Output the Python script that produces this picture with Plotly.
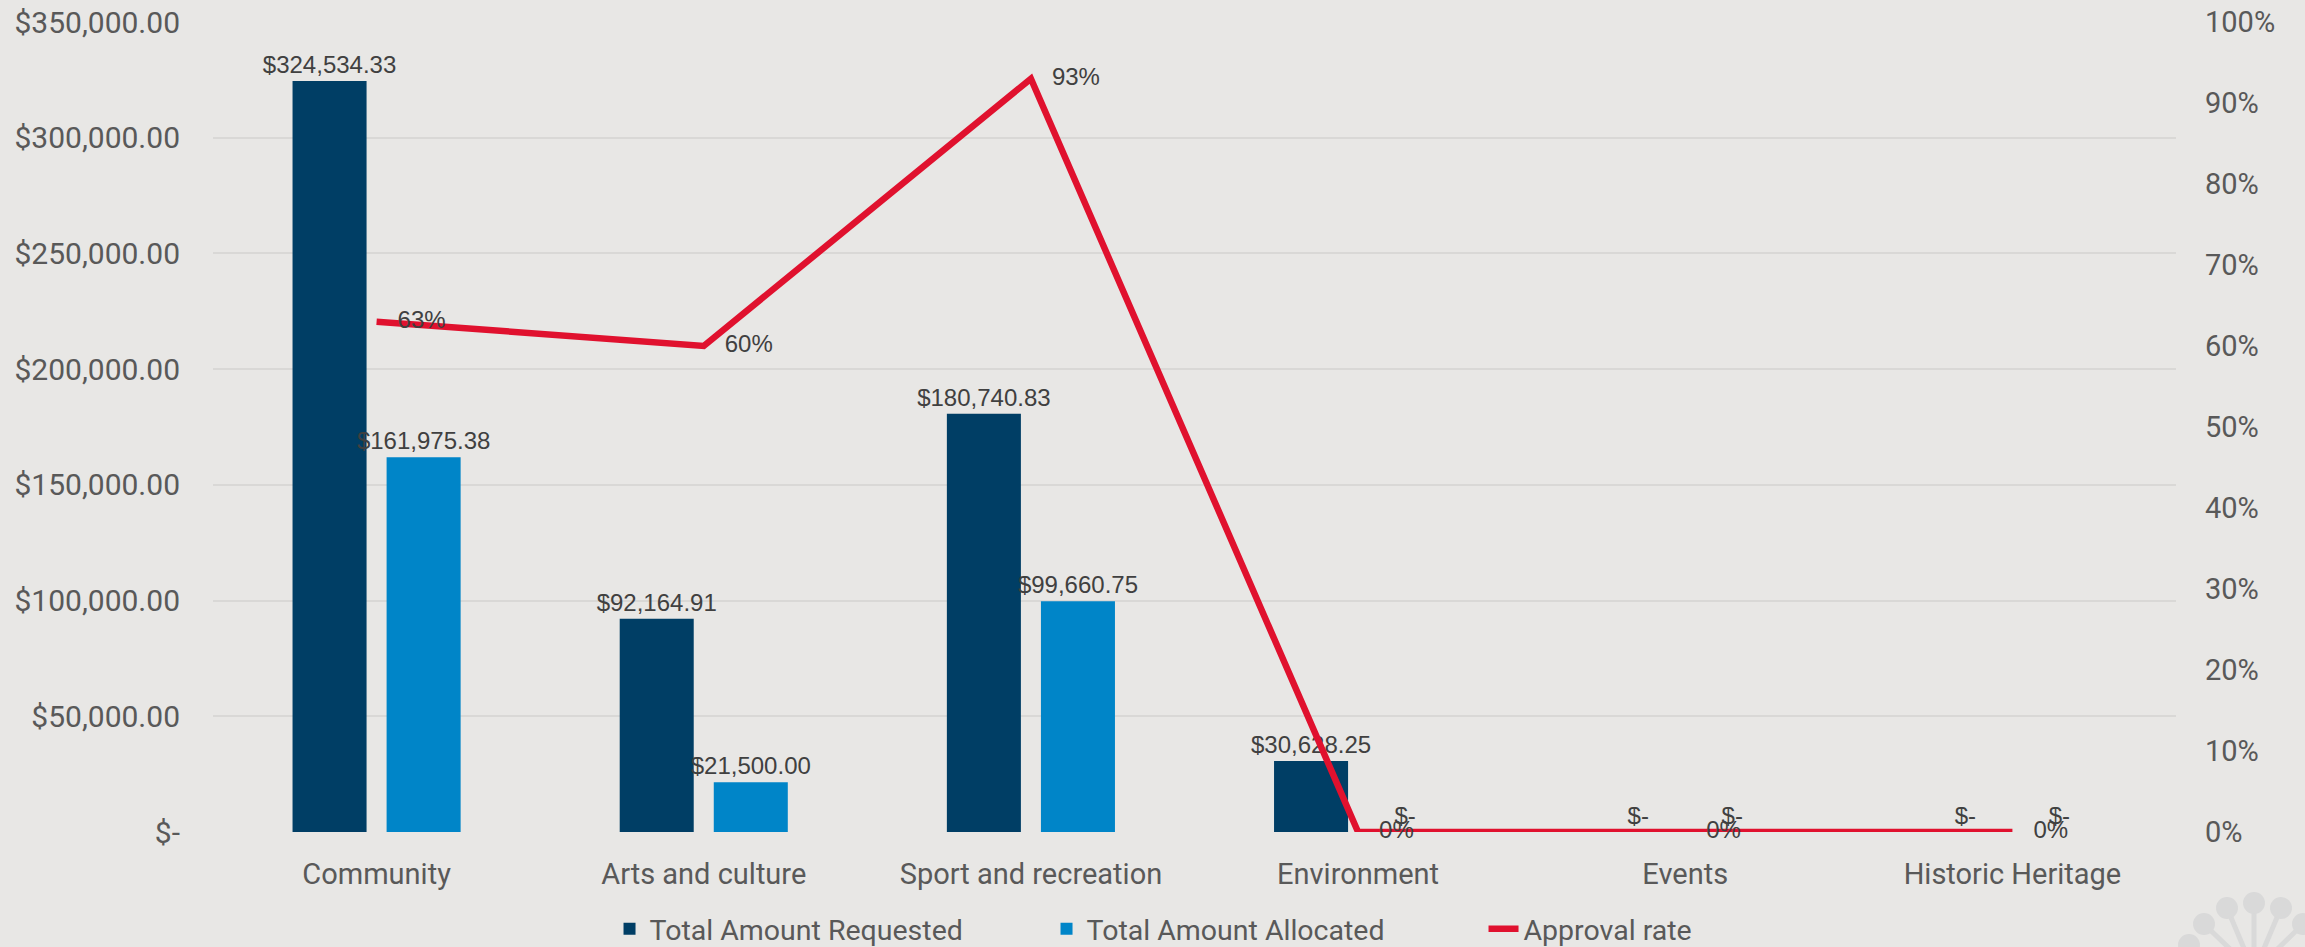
import plotly.graph_objects as go

categories = ["Community", "Arts and culture", "Sport and recreation", "Environment", "Events", "Historic Heritage"]
requested = [324534.33, 92164.91, 180740.83, 30628.25, 0, 0]
allocated = [161975.38, 21500.00, 99660.75, 0, 0, 0]
approval_rate = [0.63, 0.60, 0.93, 0.0, 0.0, 0.0]

left_tick_vals = [0, 50000, 100000, 150000, 200000, 250000, 300000, 350000]
left_tick_labels = ["$-", "$50,000.00", "$100,000.00", "$150,000.00", "$200,000.00",
                    "$250,000.00", "$300,000.00", "$350,000.00"]
right_tick_vals = [0, 0.1, 0.2, 0.3, 0.4, 0.5, 0.6, 0.7, 0.8, 0.9, 1.0]
right_tick_labels = ["0%", "10%", "20%", "30%", "40%", "50%", "60%", "70%", "80%", "90%", "100%"]

W, H = 2305, 947
ML, MT = 213, 22
PW, PH = 1963, 810
MR = W - ML - PW
MB = H - MT - PH

BG = "#E8E7E5"
GRID = "#D9D8D6"
TICK = "#595959"
LABEL = "#404040"
C_REQ = "#003E65"
C_ALL = "#0085C8"
C_LINE = "#E0112E"
FONT = "Roboto, Liberation Sans, Arial"
LFONT = "Liberation Sans, Arial"


def money(v):
    return "$-" if v == 0 else "${:,.2f}".format(v)


fig = go.Figure()
fig.add_trace(go.Bar(
    x=categories, y=requested, name="Total Amount Requested",
    marker=dict(color=C_REQ, line=dict(width=0)),
    text=[money(v) for v in requested], textposition="outside", constraintext="none",
    textfont=dict(family=LFONT, size=24, color=LABEL),
    cliponaxis=False, hoverinfo="skip",
))
fig.add_trace(go.Bar(
    x=categories, y=allocated, name="Total Amount Allocated",
    marker=dict(color=C_ALL, line=dict(width=0)),
    text=[money(v) for v in allocated], textposition="outside", constraintext="none",
    textfont=dict(family=LFONT, size=24, color=LABEL),
    cliponaxis=False, hoverinfo="skip",
))
fig.add_trace(go.Scatter(
    x=categories, y=approval_rate, name="Approval rate", yaxis="y2",
    mode="lines", line=dict(color=C_LINE, width=6.5),
    hoverinfo="skip", cliponaxis=False,
))
fig.add_trace(go.Scatter(
    x=categories, y=approval_rate, yaxis="y2", showlegend=False,
    mode="markers+text", marker=dict(size=32, color="rgba(0,0,0,0)"),
    text=["{:.0f}%".format(v * 100) for v in approval_rate],
    textposition="middle right",
    textfont=dict(family=LFONT, size=24, color=LABEL),
    hoverinfo="skip", cliponaxis=False,
))


# decorative watermark (bottom-right), given in window pixels
def px_x(px):
    return (px - ML) / PW


def px_y(py):
    return (MT + PH - py) / PH


shapes = []
hub = (2254, 972)
heads = [(2189, 945), (2204, 924), (2227, 908), (2254, 903), (2281, 908), (2303, 924)]
for cx, cy in heads:
    shapes.append(dict(type="line", xref="paper", yref="paper",
                       x0=px_x(cx), y0=px_y(cy), x1=px_x(hub[0]), y1=px_y(hub[1]),
                       line=dict(color="#D9D9D9", width=5), layer="below"))
for cx, cy in heads:
    r = 11
    shapes.append(dict(type="circle", xref="paper", yref="paper",
                       x0=px_x(cx - r), x1=px_x(cx + r), y0=px_y(cy + r), y1=px_y(cy - r),
                       fillcolor="#D9D9D9", line=dict(width=0), layer="below"))

fig.update_layout(
    width=W, height=H,
    margin=dict(l=ML, r=MR, t=MT, b=MB, pad=0, autoexpand=False),
    paper_bgcolor=BG, plot_bgcolor=BG,
    barmode="group", bargap=0.425, bargroupgap=0.213,
    font=dict(family=FONT, color=TICK, size=28),
    xaxis=dict(showgrid=False, showline=False, zeroline=False, ticks="", automargin=False,
               tickfont=dict(size=29, color=TICK), ticklabelstandoff=22),
    yaxis=dict(range=[0, 350000], tickvals=left_tick_vals, ticktext=left_tick_labels,
               showgrid=True, gridcolor=GRID, gridwidth=2, zeroline=False, showline=False,
               ticks="", tickfont=dict(size=30, color=TICK), ticklabelstandoff=32,
               ticklabeloverflow="allow", automargin=False),
    yaxis2=dict(range=[0, 1], tickvals=right_tick_vals, ticktext=right_tick_labels,
                overlaying="y", side="right", showgrid=False, zeroline=False, showline=False,
                ticks="", tickfont=dict(size=29, color=TICK), ticklabelstandoff=28,
                ticklabeloverflow="allow", automargin=False),
    legend=dict(orientation="h", x=0.202, xanchor="left", y=-0.12, yanchor="middle",
                font=dict(size=28.5, color=TICK), bgcolor="rgba(0,0,0,0)",
                entrywidth=392, entrywidthmode="pixels", traceorder="normal"),
    shapes=shapes,
    showlegend=True,
    hovermode=False,
)

# remove the default page margin so the figure fills the window exactly
page_css = ("document.body.style.margin='0';document.body.style.padding='0';"
            "document.body.style.overflow='hidden';"
            "document.body.style.background='" + BG + "';")

fig.write_html("out.html", post_script=page_css, config={"displayModeBar": False})
